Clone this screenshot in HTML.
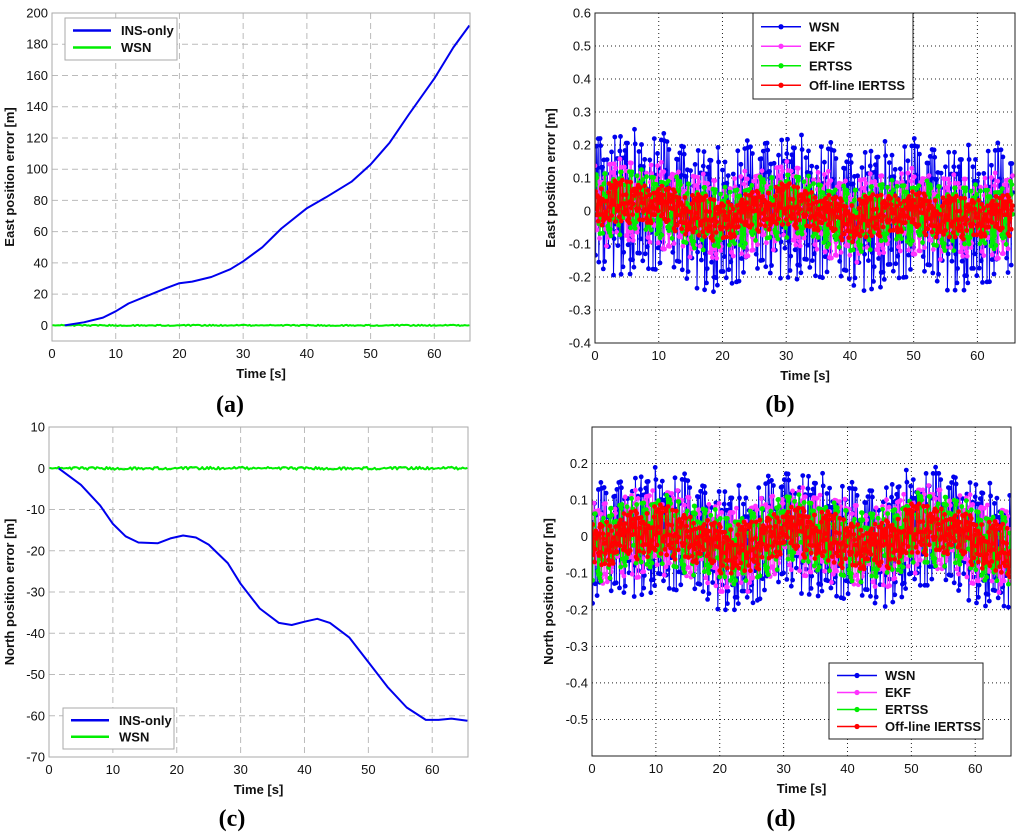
<!DOCTYPE html>
<html><head><meta charset="utf-8"><style>
html,body{margin:0;padding:0;background:#fff;}
svg{display:block;font-family:"Liberation Sans",Arial,sans-serif;}
</style></head><body>
<svg id="fig" width="1024" height="838" viewBox="0 0 1024 838"></svg>
<script>
// ---------- data ----------
const insT = [0,2,5,8,10,12,15,18,20,22,25,28,30,33,36,40,43,47,50,53,56,60,63,65.5];
const insEast = [0,0,2,5,9,14,19,24,27,28,31,36,41,50,62,75,82,92,103,117,135,158,178,192];
const insNT = [0,1.5,5,8,10,12,14,17,19,21,23,25,28,30,33,36,38,40,42,44,47,50,53,56,59,61,63,65.5];
const insNorth = [0,0,-4,-9,-13.5,-16.5,-18,-18.2,-17,-16.3,-16.8,-18.5,-23,-28,-34,-37.5,-38,-37.2,-36.5,-37.5,-41,-47,-53,-58,-61,-61,-60.7,-61.2];
const trendT = [0,5,10,15,20,25,30,35,40,45,50,55,60,65];
const trendEast = [0.02,0.03,0.02,-0.01,-0.03,0.0,0.02,0.0,-0.03,-0.01,0.0,-0.02,-0.02,-0.01];
const trendNorth = [-0.03,0.0,0.02,0.0,-0.03,-0.03,0.02,0.01,-0.02,-0.03,0.02,0.02,-0.01,-0.04];
const ampWSN = [0.22,0.17];
const ampEKF = [0.13,0.12];
const ampERTSS = [0.1,0.1];
const ampIERTSS = [0.065,0.07];
const noise = [0.3,-0.8,0.6,0.1,-0.4,0.9,-0.2,-0.7,0.5,0.0,-0.9,0.7,0.2,-0.5,0.8,-0.1,-0.6,0.4,0.9,-0.3,-0.8,0.1,0.6,-0.4,0.3,-1.0,0.8,-0.2,0.5,-0.7,0.0,0.7,-0.5,0.2,-0.9,0.9,-0.1,0.4,-0.6,0.6,-0.3,1.0,-0.8,0.2,-0.4,0.5,-0.9,0.3,0.8,-0.2,-0.6,0.7,0.1,-0.7,0.4,-0.1,0.9,-0.5,0.2,-0.8,0.6,-0.3,0.0,0.8,-0.9,0.3,-0.4,0.7,-0.6,0.1,0.5,-0.2,-1.0,0.9,-0.1,0.4,-0.7,0.2,0.6,-0.5,-0.3,0.8,-0.8,0.0,0.5,-0.4,0.9,-0.6,0.3,-0.2,0.7,-0.9,0.1,0.4,-0.5,0.8,-0.1,-0.7,0.6,0.2,-0.3,1.0,-0.6,0.0,0.5,-0.8,0.3,-0.4,0.9,-0.2,0.7,-0.5,0.1,-0.9,0.6,0.4,-0.1,-0.7,0.8,-0.3,0.2,-0.6,0.5,-1.0,0.7,0.0,-0.4,0.9,-0.2,0.3,-0.8];
const xTicks = [0,10,20,30,40,50,60];
const yTicksA = [200,180,160,140,120,100,80,60,40,20,0];
const yTicksB = [0.6,0.5,0.4,0.3,0.2,0.1,0,-0.1,-0.2,-0.3,-0.4];
const yTicksC = [10,0,-10,-20,-30,-40,-50,-60,-70];
const yTicksD = [0.2,0.1,0,-0.1,-0.2,-0.3,-0.4,-0.5];

// ---------- helpers ----------
const NS = "http://www.w3.org/2000/svg";
const fig = document.getElementById('fig');
function mk(tag, attrs, parent){
  const e = document.createElementNS(NS, tag);
  for (const k in attrs) e.setAttribute(k, attrs[k]);
  (parent||fig).appendChild(e);
  return e;
}
function interp(ts, vs, t){
  if (t <= ts[0]) return vs[0];
  for (let i=1;i<ts.length;i++){
    if (t <= ts[i]){ const f=(t-ts[i-1])/(ts[i]-ts[i-1]); return vs[i-1]+f*(vs[i]-vs[i-1]); }
  }
  return vs[vs.length-1];
}
function fmt(v){ return (Math.round(v*10)/10).toString(); }

function makeAxes(p){
  const g = mk('g', {});
  
  
  p.sx = v => p.x0 + (v - p.xmin)/(p.xmax - p.xmin)*(p.x1 - p.x0);
  p.sy = v => p.y1 - (v - p.ymin)/(p.ymax - p.ymin)*(p.y1 - p.y0);
  const grid = mk('g', {}, g);
  
  
  const dash = p.dotted ? '1,3' : '6,4';
  const gc = p.dotted ? '#222' : '#bbb';
  p.xTicks.forEach(t=>{
    const x = p.sx(t);
    if (t>p.xmin) mk('line',{x1:x,x2:x,y1:p.y0,y2:p.y1,stroke:gc,'stroke-width':1,'stroke-dasharray':dash},grid);
    const lab = mk('text',{x:x,y:p.y1+17,'font-size':13,'text-anchor':'middle',fill:'#111'},g);
    lab.textContent = t;
    
    
  });
  p.yTicks.forEach(t=>{
    const y = p.sy(t);
    if (t>p.ymin && t<p.ymax) mk('line',{x1:p.x0,x2:p.x1,y1:y,y2:y,stroke:gc,'stroke-width':1,'stroke-dasharray':dash},grid);
    const lab = mk('text',{x:p.x0-4,y:y+4.5,'font-size':13,'text-anchor':'end',fill:'#111'},g);
    lab.textContent = fmt(t);
    
    
  });
  p.plot = mk('g', {}, g);
  
  
  const cp = mk('clipPath',{id:'clip-'+p.name},g);
  mk('rect',{x:p.x0,y:p.y0,width:p.x1-p.x0,height:p.y1-p.y0},cp);
  p.plot.setAttribute('clip-path','url(#clip-'+p.name+')');
  const frame = mk('rect',{x:p.x0,y:p.y0,width:p.x1-p.x0,height:p.y1-p.y0,fill:'none',stroke:p.dotted?'#222':'#aaa','stroke-width':1},g);
  
  
  const xt = mk('text',{x:(p.x0+p.x1)/2,y:p.y1+37,'font-size':13,'font-weight':'bold','text-anchor':'middle',fill:'#111'},g);
  xt.textContent = 'Time [s]';
  
  
  const cy = (p.y0+p.y1)/2;
  const yt = mk('text',{x:p.ytX,y:cy,'font-size':13,'font-weight':'bold','text-anchor':'middle',fill:'#111',transform:'rotate(-90 '+p.ytX+' '+cy+')'},g);
  yt.textContent = p.ytitle;
  
  
  const cap = mk('text',{x:p.capX,y:p.capY,'font-size':24,'font-weight':'bold','text-anchor':'middle',fill:'#000','font-family':'"Liberation Serif",serif'},g);
  cap.textContent = p.cap;
  
  
  return g;
}

function legend(p, x, y, w, h, entries, markers){
  const g = mk('g', {});
  
  
  mk('rect',{x:x,y:y,width:w,height:h,fill:'#fff',stroke:markers?'#222':'#aaa','stroke-width':1},g);
  const step = (h-8)/entries.length;
  entries.forEach((e,i)=>{
    const yy = y + 4 + step*(i+0.5);
    const eg = mk('g',{},g);
    
    
    mk('line',{x1:x+8,x2:x+(markers?48:46),y1:yy,y2:yy,stroke:e[1],'stroke-width':markers?1.5:2.5},eg);
    if (markers) mk('circle',{cx:x+28,cy:yy,r:2.6,fill:e[1]},eg);
    const t = mk('text',{x:x+56,y:yy+4.5,'font-size':13,'font-weight':'bold',fill:'#111'},eg);
    t.textContent = e[0];
  });
}

function line(p, ts, vs, color, width, name){
  const pts = ts.map((t,i)=>p.sx(t).toFixed(1)+','+p.sy(vs[i]).toFixed(1)).join(' ');
  const pl = mk('polyline',{points:pts,fill:'none',stroke:color,'stroke-width':width,'stroke-linejoin':'round'},p.plot);
  
  
}

function noisySeries(p, trend, amp, stride, off, color, name, withMarkers){
  const ts=[], vs=[];
  const n = noise.length;
  for (let i=0;i*0.1<=65.6;i++){
    const t = i*0.1;
    ts.push(t);
    vs.push(interp(trendT, trend, t) + amp*noise[(i*stride+off)%n]);
  }
  const g = mk('g',{},p.plot);
  
  
  const pts = ts.map((t,i)=>p.sx(t).toFixed(1)+','+p.sy(vs[i]).toFixed(1)).join(' ');
  mk('polyline',{points:pts,fill:'none',stroke:color,'stroke-width':1},g);
  if (withMarkers){
    ts.forEach((t,i)=>{
      mk('circle',{cx:p.sx(t).toFixed(1),cy:p.sy(vs[i]).toFixed(1),r:2.4,fill:color},g);
    });
  }
}

function wsnFlat(p, amp, name){
  const ts=[], vs=[];
  for (let i=0;i*0.25<=65.6;i++){ ts.push(i*0.25); vs.push(amp*noise[(i*3)%noise.length]); }
  line(p, ts, vs, '#00ee00', 2, name);
}

// ---------- panel a ----------
const pa = {name:'panel-a-east-ins',x0:52,x1:470,y0:13,y1:341,xmin:0,xmax:65.6,ymin:-10,ymax:200,xTicks:xTicks,yTicks:yTicksA,ytitle:'East position error [m]',ytX:14,cap:'(a)',capX:230,capY:412};
makeAxes(pa);
wsnFlat(pa, 0.4, 'wsn-line-a');
line(pa, insT.slice(1), insEast.slice(1), '#0000ee', 2, 'ins-only-line-a');
legend(pa, 65, 18, 112, 42, [['INS-only','#0000ee'],['WSN','#00ee00']], false);

// ---------- panel c ----------
const pc = {name:'panel-c-north-ins',x0:49,x1:468,y0:427,y1:757,xmin:0,xmax:65.6,ymin:-70,ymax:10,xTicks:xTicks,yTicks:yTicksC,ytitle:'North position error [m]',ytX:14,cap:'(c)',capX:232,capY:826};
makeAxes(pc);
wsnFlat(pc, 0.35, 'wsn-line-c');
line(pc, insNT.slice(1), insNorth.slice(1), '#0000ee', 2, 'ins-only-line-c');
legend(pc, 63, 708, 111, 41, [['INS-only','#0000ee'],['WSN','#00ee00']], false);

// ---------- panel b ----------
const pb = {name:'panel-b-east-filters',x0:595,x1:1015,y0:13,y1:343,xmin:0,xmax:65.9,ymin:-0.4,ymax:0.6,xTicks:xTicks,yTicks:yTicksB,ytitle:'East position error [m]',ytX:555,cap:'(b)',capX:780,capY:412,dotted:true};
makeAxes(pb);
noisySeries(pb, trendEast, ampWSN[0], 7, 0, '#0000ee', 'wsn-series-b', true);
noisySeries(pb, trendEast, ampEKF[0], 11, 5, '#ff33ff', 'ekf-series-b', true);
noisySeries(pb, trendEast, ampERTSS[0], 13, 9, '#00ee00', 'ertss-series-b', true);
noisySeries(pb, trendEast, ampIERTSS[0], 5, 17, '#ff0000', 'ieertss-series-b', true);
legend(pb, 753, 13, 160, 86, [['WSN','#0000ee'],['EKF','#ff33ff'],['ERTSS','#00ee00'],['Off-line IERTSS','#ff0000']], true);

// ---------- panel d ----------
const pd = {name:'panel-d-north-filters',x0:592,x1:1011,y0:427,y1:756,xmin:0,xmax:65.6,ymin:-0.6,ymax:0.3,xTicks:xTicks,yTicks:yTicksD,ytitle:'North position error [m]',ytX:553,cap:'(d)',capX:781,capY:826,dotted:true};
makeAxes(pd);
noisySeries(pd, trendNorth, ampWSN[1], 7, 3, '#0000ee', 'wsn-series-d', true);
noisySeries(pd, trendNorth, ampEKF[1], 11, 8, '#ff33ff', 'ekf-series-d', true);
noisySeries(pd, trendNorth, ampERTSS[1], 13, 21, '#00ee00', 'ertss-series-d', true);
noisySeries(pd, trendNorth, ampIERTSS[1], 5, 30, '#ff0000', 'ieertss-series-d', true);
legend(pd, 829, 663, 154, 76, [['WSN','#0000ee'],['EKF','#ff33ff'],['ERTSS','#00ee00'],['Off-line IERTSS','#ff0000']], true);
</script>
</body></html>
